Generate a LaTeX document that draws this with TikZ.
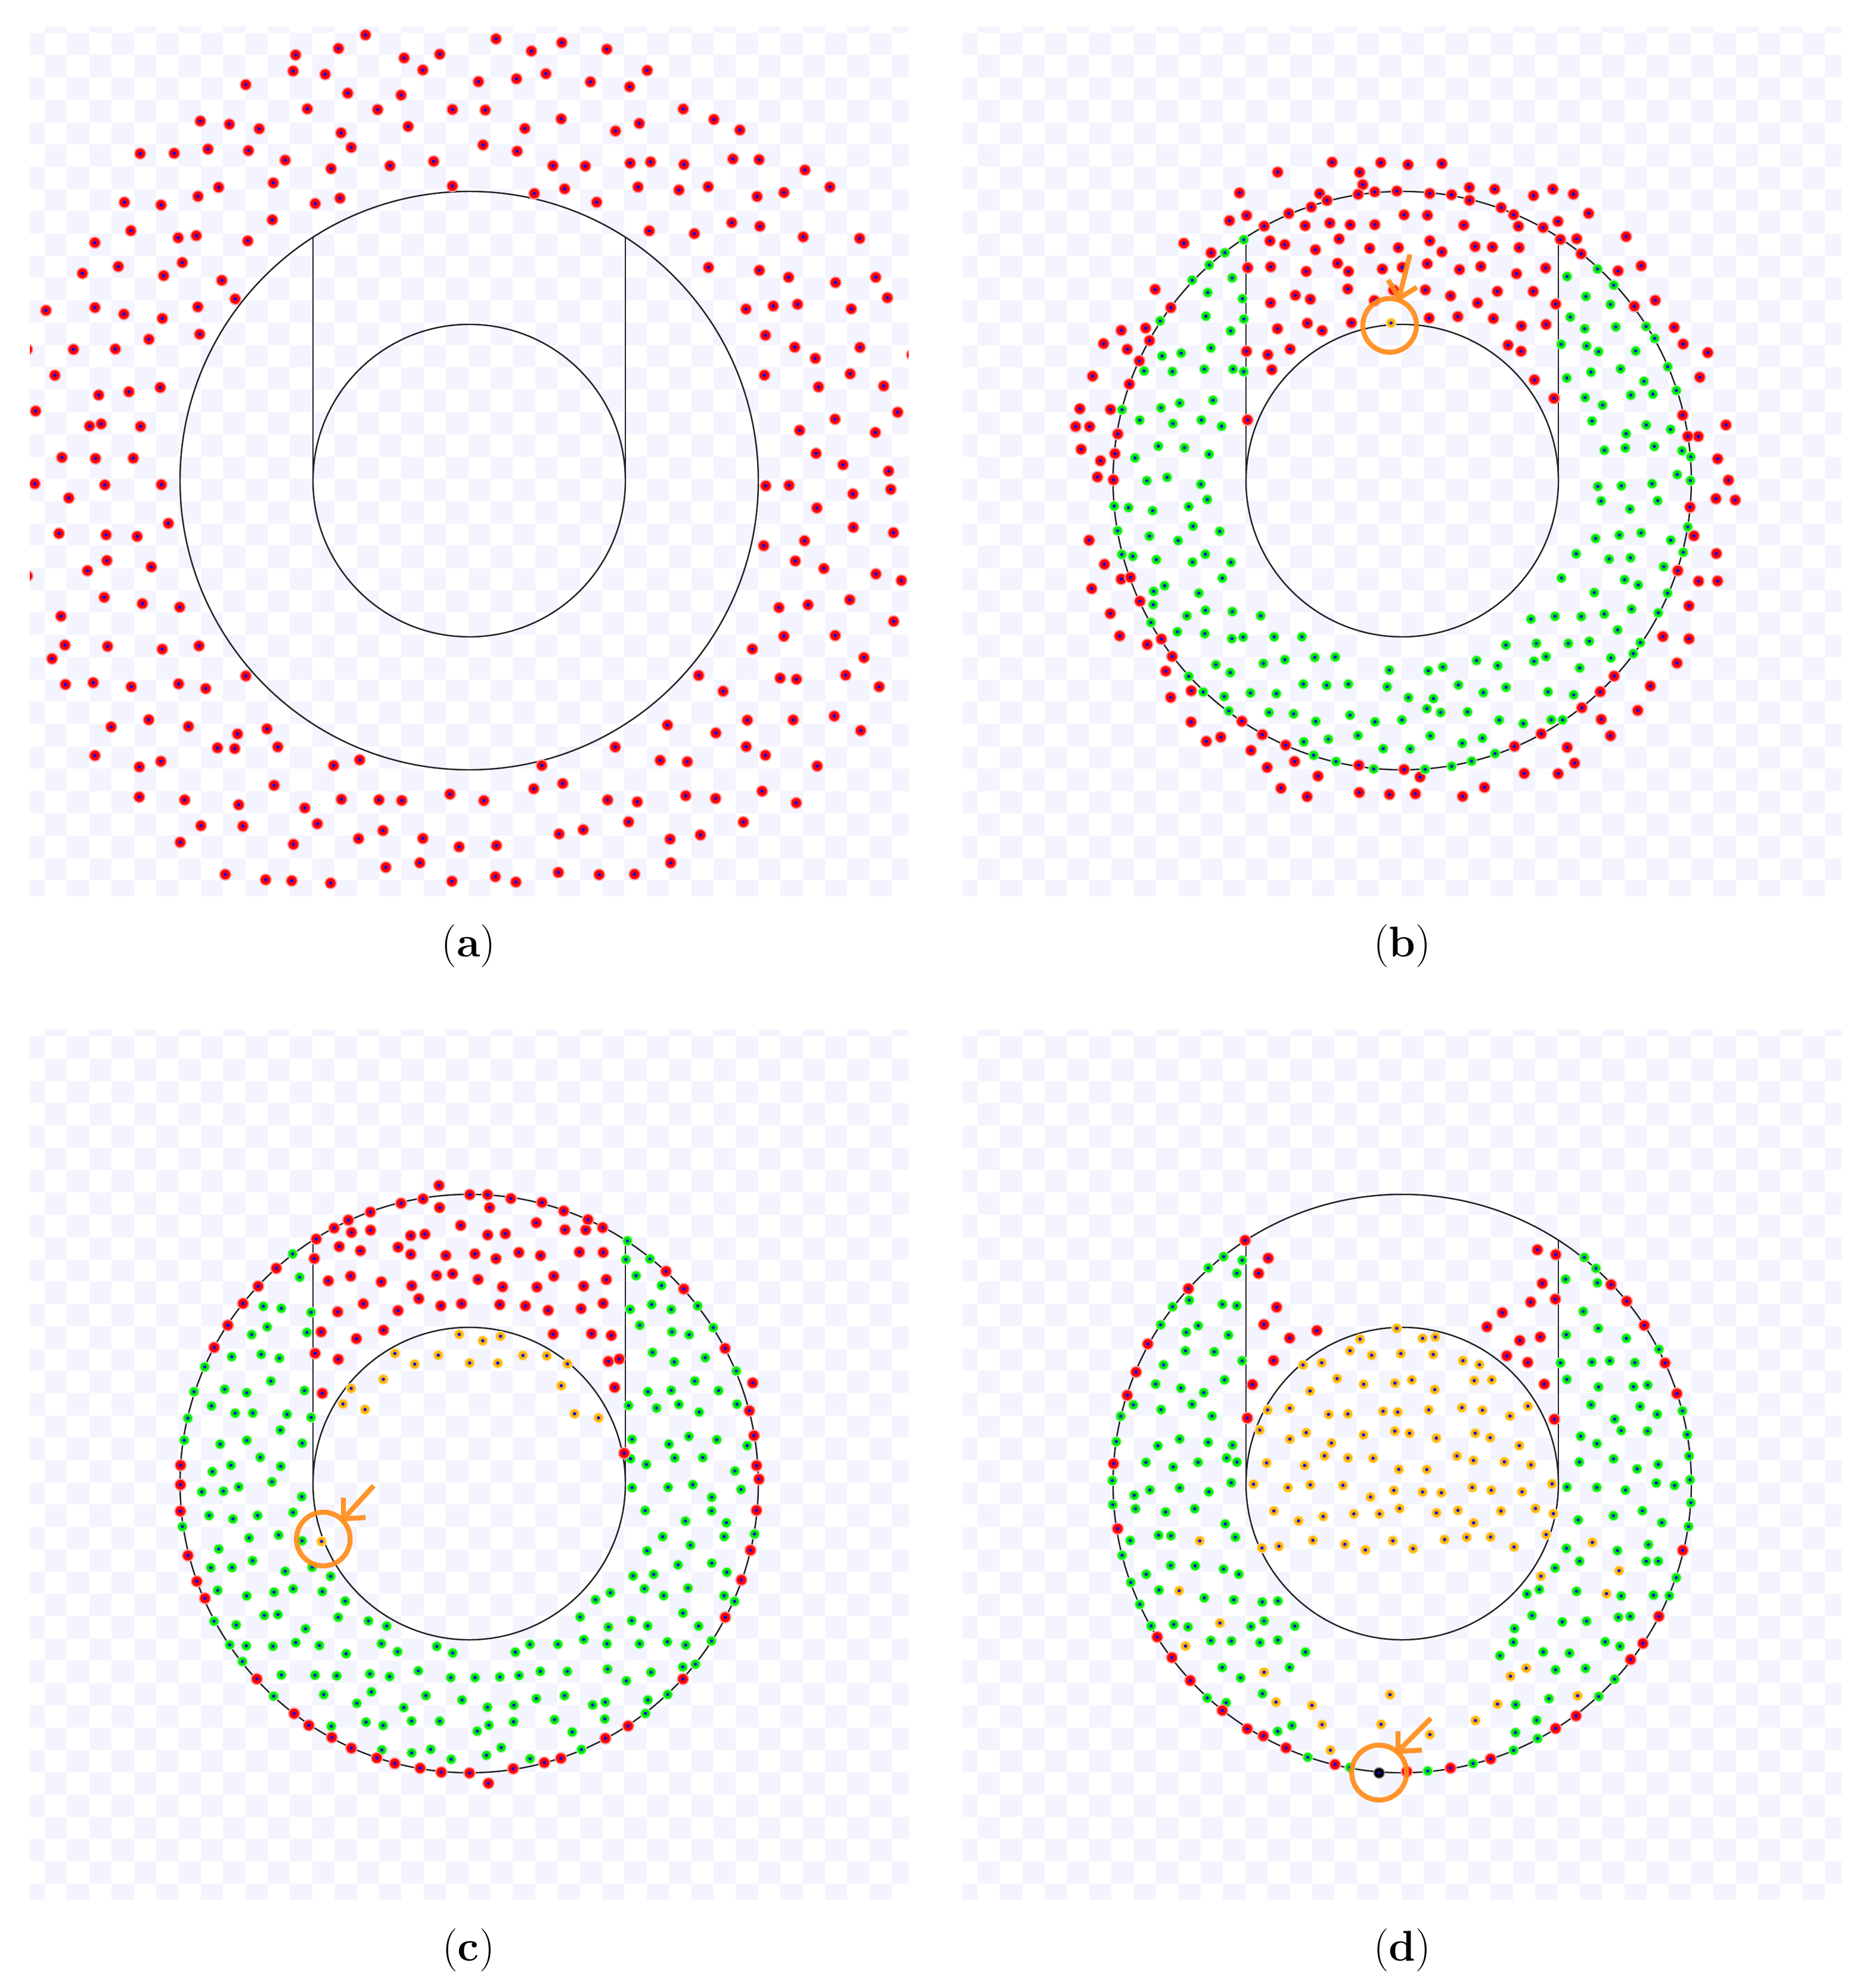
\documentclass[tikz,border=0pt]{standalone}
\usepackage{fontspec}
\definecolor{lav}{RGB}{244,244,255}
\definecolor{pred}{RGB}{255,0,0}
\definecolor{pgreen}{RGB}{0,235,0}
\definecolor{porange}{RGB}{255,180,0}
\definecolor{pcore}{RGB}{15,15,235}
\definecolor{annot}{RGB}{255,140,26}
\definecolor{wire}{RGB}{35,35,35}
\newcommand\mkred[1]{\fill[pred!40] (#1) circle[radius=1.05mm];\fill[pred] (#1) circle[radius=0.82mm];\fill[pcore] (#1) circle[radius=0.3mm];}
\newcommand\mkgreen[1]{\fill[pgreen!40] (#1) circle[radius=0.92mm];\fill[pgreen] (#1) circle[radius=0.72mm];\fill[pcore] (#1) circle[radius=0.28mm];}
\newcommand\mkorange[1]{\fill[porange!40] (#1) circle[radius=0.92mm];\fill[porange] (#1) circle[radius=0.72mm];\fill[pcore] (#1) circle[radius=0.28mm];}
\newcommand\mkblack[1]{\fill[black!45] (#1) circle[radius=0.98mm];\fill[black] (#1) circle[radius=0.8mm];\fill[pcore] (#1) circle[radius=0.25mm];}
\newcommand\checkerbox[2]{%
\begin{scope}
\clip (#1,#2) rectangle ++(14.74,14.58);
\foreach \i in {0,...,40}{\foreach \j in {0,...,40}{%
  \pgfmathtruncatemacro\oddc{mod(\i+\j,2)}%
  \ifnum\oddc=1 \fill[lav] ({#1+0.25+0.374*(\i-1)},{#2+0.11+0.374*(\j-1)}) rectangle ++(0.374,0.374);\fi}}
\end{scope}}
\newcommand\panelgeom[2]{%
 \draw[wire,line width=0.7pt] (#1,#2) circle[radius=4.85cm];
 \draw[wire,line width=0.7pt] (#1,#2) circle[radius=2.62cm];
 \draw[wire,line width=0.7pt] ({#1-2.62},#2) -- ({#1-2.62},{#2-4.081});
 \draw[wire,line width=0.7pt] ({#1+2.62},#2) -- ({#1+2.62},{#2-4.081});}
\tikzset{annotline/.style={draw=annot,line width=2.4pt,opacity=0.92,line join=miter},
  lbl/.style={font=\fontsize{20.5}{24}\selectfont,inner sep=0pt}}
\begin{document}
\begin{tikzpicture}[x=1cm,y=-1cm]
\useasboundingbox (0,0) rectangle (31.29,33.34);
\fill[white] (0,0) rectangle (31.29,33.34);
\checkerbox{0.50}{0.44}
\checkerbox{16.15}{0.44}
\checkerbox{0.50}{17.27}
\checkerbox{16.15}{17.27}
\panelgeom{7.87}{8.06}
\panelgeom{23.52}{8.06}
\panelgeom{7.87}{24.88}
\panelgeom{23.52}{24.88}
% ---------- panel a
\begin{scope}
\clip (0.50,0.44) rectangle ++(14.74,14.58);
\pgfmathsetseed{1234}
\foreach \i in {0,...,23}{\foreach \j in {0,...,23}{%
 \pgfmathsetmacro\px{0.50+0.63*(\i+0.25+0.5*mod(\j,2))+0.44*(rnd-0.5)}%
 \pgfmathsetmacro\py{0.44+0.63*(\j+0.5)+0.44*(rnd-0.5)}%
 \pgfmathsetmacro\dd{veclen(\px-7.87,\py-8.06)}%
 \pgfmathtruncatemacro\keep{and(\dd>4.93,\dd<7.85)}%
 \ifnum\keep=1 \mkred{\px,\py}\fi}}
\end{scope}
% ---------- panel b
\pgfmathsetseed{2222}
\foreach \i in {0,...,26}{\foreach \j in {0,...,26}{%
 \pgfmathsetmacro\uu{-5.94+0.44*(\i+0.25+0.5*mod(\j,2))+0.28*(rnd-0.5)}%
 \pgfmathsetmacro\vv{-5.94+0.44*(\j+0.5)+0.28*(rnd-0.5)}%
 \pgfmathsetmacro\dd{veclen(\uu,\vv)}%
 \pgfmathsetmacro\ra{rnd}%
 \pgfmathtruncatemacro\inU{and(abs(\uu)<2.62,\vv<0)}%
 \pgfmathtruncatemacro\cls{(\dd>5.6)?0:((\dd>4.97)?((\ra<0.75)?1:0):((\dd>4.73)?0:((\inU>0)?((\dd>2.74)?1:0):((\dd>3.1)?2:0))))}%
 \pgfmathsetmacro\px{23.52+\uu}\pgfmathsetmacro\py{8.06+\vv}%
 \ifcase\cls\or\mkred{\px,\py}\or\mkgreen{\px,\py}\fi}}
\foreach \k in {0,...,75}{%
 \pgfmathsetmacro\ang{\k*4.7368+2.4*(rnd-0.5)}%
 \pgfmathsetmacro\rr{4.85+0.04*(rnd-0.5)}%
 \pgfmathsetmacro\uu{\rr*cos(\ang)}%
 \pgfmathsetmacro\vv{-\rr*sin(\ang)}%
 \pgfmathsetmacro\ra{rnd}%
 \pgfmathtruncatemacro\cls{(and(abs(\uu)<2.62,\vv<0))?1:((\ra<0.45)?1:2)}%
 \pgfmathsetmacro\px{23.52+\uu}\pgfmathsetmacro\py{8.06+\vv}%
 \ifcase\cls\or\mkred{\px,\py}\or\mkgreen{\px,\py}\fi}
% ---------- panel c
\pgfmathsetseed{3333}
\foreach \i in {0,...,22}{\foreach \j in {0,...,22}{%
 \pgfmathsetmacro\uu{-4.95+0.44*(\i+0.25+0.5*mod(\j,2))+0.28*(rnd-0.5)}%
 \pgfmathsetmacro\vv{-4.95+0.44*(\j+0.5)+0.28*(rnd-0.5)}%
 \pgfmathsetmacro\dd{veclen(\uu,\vv)}%
 \pgfmathtruncatemacro\inU{and(abs(\uu)<2.62,\vv<0)}%
 \pgfmathtruncatemacro\oz{and(\dd>2.02,\vv<-0.9)}%
 \pgfmathtruncatemacro\cls{(\dd>4.73)?0:((\dd<2.62)?((\oz>0)?3:0):((\inU>0)?((\dd>2.74)?1:0):((\dd>2.72)?2:0)))}%
 \pgfmathsetmacro\px{7.87+\uu}\pgfmathsetmacro\py{24.88+\vv}%
 \ifcase\cls\or\mkred{\px,\py}\or\mkgreen{\px,\py}\or\mkorange{\px,\py}\fi}}
\foreach \k in {0,...,75}{%
 \pgfmathsetmacro\ang{\k*4.7368+2.4*(rnd-0.5)}%
 \pgfmathsetmacro\ro{rnd}%
 \pgfmathsetmacro\rr{4.85+0.04*(rnd-0.5)+((\ro<0.1)?0.18:0)}%
 \pgfmathsetmacro\uu{\rr*cos(\ang)}%
 \pgfmathsetmacro\vv{-\rr*sin(\ang)}%
 \pgfmathsetmacro\ra{rnd}%
 \pgfmathtruncatemacro\cls{(and(abs(\uu)<2.62,\vv<0))?1:((\ro<0.1)?1:((\ra<0.55)?1:2))}%
 \pgfmathsetmacro\px{7.87+\uu}\pgfmathsetmacro\py{24.88+\vv}%
 \ifcase\cls\or\mkred{\px,\py}\or\mkgreen{\px,\py}\fi}
\mkred{10.47,24.37}
% ---------- panel d
\pgfmathsetseed{4444}
\foreach \i in {0,...,22}{\foreach \j in {0,...,22}{%
 \pgfmathsetmacro\uu{-4.95+0.44*(\i+0.25+0.5*mod(\j,2))+0.28*(rnd-0.5)}%
 \pgfmathsetmacro\vv{-4.95+0.44*(\j+0.5)+0.28*(rnd-0.5)}%
 \pgfmathsetmacro\dd{veclen(\uu,\vv)}%
 \pgfmathsetmacro\ra{rnd}%
 \pgfmathtruncatemacro\inU{and(abs(\uu)<2.62,\vv<0)}%
 \pgfmathtruncatemacro\rz{and(\dd>2.74,or(abs(\uu)>2.1,and(\dd<3.5,abs(\uu)>1.35)))}%
 \pgfmathtruncatemacro\bz{and(\dd>3.5,\ra<0.35)}%
 \pgfmathtruncatemacro\cls{(\dd>4.73)?0:((\dd<2.62)?((\vv<1.3)?3:0):((\inU>0)?((\rz>0)?1:0):((\dd<2.72)?0:((\vv>0.9)?((abs(\uu)<1.6)?((\bz>0)?3:0):((\ra<0.2)?3:2)):2))))}%
 \pgfmathsetmacro\px{23.52+\uu}\pgfmathsetmacro\py{24.88+\vv}%
 \ifcase\cls\or\mkred{\px,\py}\or\mkgreen{\px,\py}\or\mkorange{\px,\py}\fi}}
\foreach \k in {0,...,75}{%
 \pgfmathsetmacro\ang{\k*4.7368+2.4*(rnd-0.5)}%
 \pgfmathsetmacro\rr{4.85+0.04*(rnd-0.5)}%
 \pgfmathsetmacro\uu{\rr*cos(\ang)}%
 \pgfmathsetmacro\vv{-\rr*sin(\ang)}%
 \pgfmathsetmacro\ra{rnd}%
 \pgfmathtruncatemacro\cls{(and(abs(\uu)<2.62,\vv<0))?0:((abs(\ang-265.4)<3.4)?0:((\ra<0.5)?1:2))}%
 \pgfmathsetmacro\px{23.52+\uu}\pgfmathsetmacro\py{24.88+\vv}%
 \ifcase\cls\or\mkred{\px,\py}\or\mkgreen{\px,\py}\fi}
% ---------- annotations
\coordinate (bS) at (23.65,4.267); \coordinate (bT) at (23.467,5.00);
\coordinate (bA1) at (23.283,4.693); \coordinate (bA2) at (23.767,4.817);
\coordinate (bC) at (23.31,5.457);
\mkorange{23.333,5.417}
\draw[annotline] (bC) circle[radius=4.5mm];
\draw[annotline] (bS) -- (bT) (bA1) -- (bT) -- (bA2);
\coordinate (cS) at (6.267,24.917); \coordinate (cT) at (5.76,25.47);
\coordinate (cA1) at (5.76,25.117); \coordinate (cA2) at (6.133,25.45);
\coordinate (cC) at (5.423,25.81);
\mkorange{5.393,25.85}
\draw[annotline] (cC) circle[radius=4.5mm];
\draw[annotline] (cS) -- (cT) (cA1) -- (cT) -- (cA2);
\coordinate (dS) at (24.00,28.817); \coordinate (dT) at (23.45,29.37);
\coordinate (dA1) at (23.45,29.033); \coordinate (dA2) at (23.85,29.35);
\coordinate (dC) at (23.133,29.727);
\mkblack{23.133,29.733}
\draw[annotline] (dC) circle[radius=4.6mm];
\draw[annotline] (dS) -- (dT) (dA1) -- (dT) -- (dA2);
% ---------- labels
\node[lbl] (la) at (7.86,15.87) {(\textbf{a})};
\node[lbl] (lb) at (23.52,15.87) {(\textbf{b})};
\node[lbl] (lc) at (7.86,32.70) {(\textbf{c})};
\node[lbl] (ld) at (23.52,32.70) {(\textbf{d})};
\end{tikzpicture}
\end{document}
